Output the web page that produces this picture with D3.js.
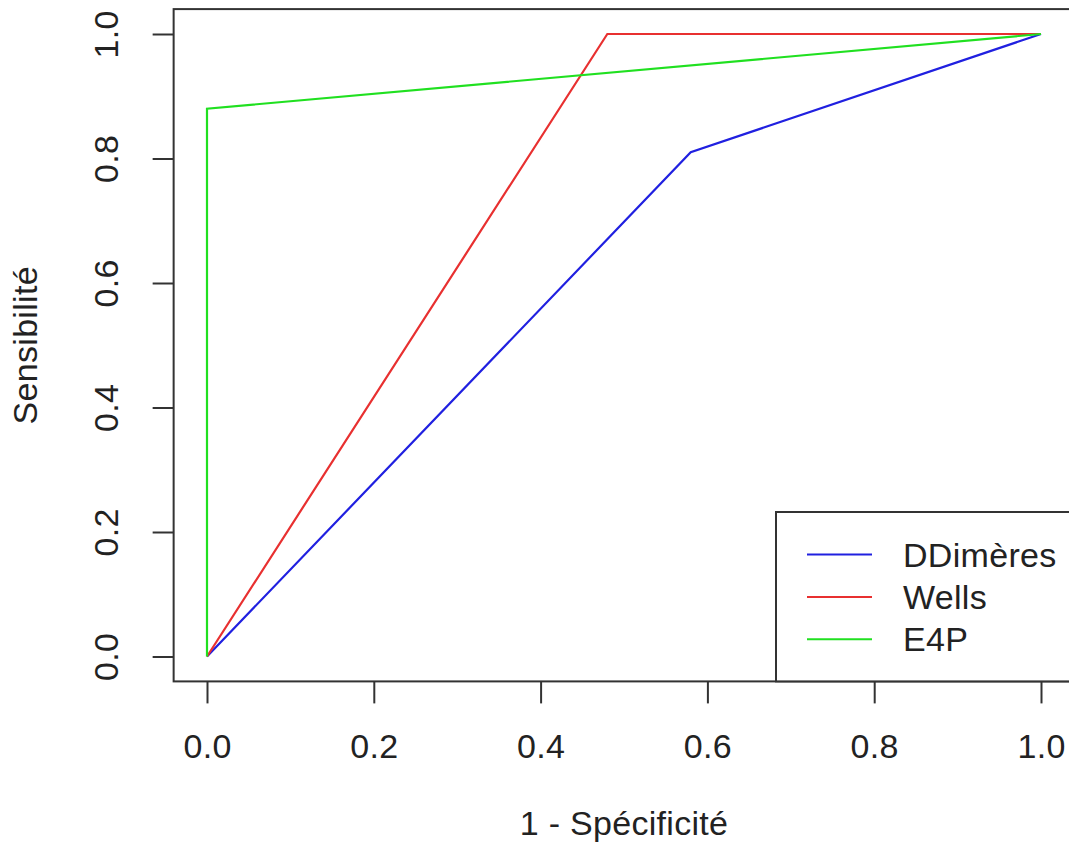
<!DOCTYPE html>
<html><head><meta charset="utf-8">
<script src="https://cdn.jsdelivr.net/npm/d3@7"></script>
<style>body{margin:0;background:#fff;}svg{display:block;}</style>
</head><body>
<svg id="c" width="1069" height="849"></svg>
<script>
const seriesNames = ["DDimères", "Wells", "E4P"];
const seriesColors = ["#2020e0", "#e83030", "#20e020"];
const ddimeresFPR = [0, 0.58, 1];
const ddimeresTPR = [0, 0.81, 1];
const wellsFPR = [0, 0.48, 1];
const wellsTPR = [0, 1, 1];
const e4pFPR = [0, 0, 1];
const e4pTPR = [0, 0.88, 1];
const xTicks = [0, 0.2, 0.4, 0.6, 0.8, 1.0];
const yTicks = [0, 0.2, 0.4, 0.6, 0.8, 1.0];

const svg = d3.select("#c");
const font = "Liberation Sans, Arial, Helvetica, sans-serif";
const fs = 34;
const ls = "0.3px";
const x0 = 207, x1 = 1041, y0 = 656.5, y1 = 34;
const x = d3.scaleLinear().domain([0, 1]).range([x0, x1]);
const y = d3.scaleLinear().domain([0, 1]).range([y0, y1]);
const boxL = x(-0.04), boxR = x(1.04), boxT = y(1.04), boxB = y(-0.04);

const series = [
  {fpr: ddimeresFPR, tpr: ddimeresTPR},
  {fpr: wellsFPR, tpr: wellsTPR},
  {fpr: e4pFPR, tpr: e4pTPR}
];
const line = d3.line().x(d => x(d[0])).y(d => y(d[1]));
series.forEach((s, i) => {
  svg.append("path")
    .attr("d", line(s.fpr.map((v, j) => [v, s.tpr[j]])))
    .attr("fill", "none").attr("stroke", seriesColors[i]).attr("stroke-width", 2.2);
});

// plot box
svg.append("rect").attr("x", boxL).attr("y", boxT)
  .attr("width", boxR - boxL).attr("height", boxB - boxT)
  .attr("fill", "none").attr("stroke", "#333").attr("stroke-width", 2);

// x axis
const xa = svg.append("g").attr("transform", `translate(0,${boxB})`)
  .call(d3.axisBottom(x).tickValues(xTicks).tickFormat(d3.format(".1f")).tickSize(22).tickPadding(32));
xa.select(".domain").remove();
xa.selectAll("line").attr("stroke", "#333").attr("stroke-width", 2);
xa.selectAll("text").attr("font-family", font).attr("font-size", fs).attr("fill", "#222")
  .attr("letter-spacing", ls).attr("y", null).attr("dy", null).attr("transform", "translate(0,77)");

// y axis
const ya = svg.append("g").attr("transform", `translate(${boxL},0)`)
  .call(d3.axisLeft(y).tickValues(yTicks).tickFormat(d3.format(".1f")).tickSize(21));
ya.select(".domain").remove();
ya.selectAll("line").attr("stroke", "#333").attr("stroke-width", 2);
ya.selectAll("text").attr("font-family", font).attr("font-size", fs).attr("fill", "#222")
  .attr("letter-spacing", ls)
  .attr("x", null).attr("dy", null).attr("text-anchor", "middle")
  .attr("transform", "translate(-56,0) rotate(-90)");

// axis titles
svg.append("text").attr("x", (boxL + boxR) / 2).attr("y", 835)
  .attr("text-anchor", "middle").attr("font-family", font).attr("font-size", fs).attr("fill", "#222")
  .attr("letter-spacing", ls).text("1 - Spécificité");
svg.append("text").attr("transform", `translate(37,${(boxT + boxB) / 2}) rotate(-90)`)
  .attr("text-anchor", "middle").attr("font-family", font).attr("font-size", fs).attr("fill", "#222")
  .attr("letter-spacing", ls).text("Sensibilité");

// legend
const lg = svg.append("g");
lg.append("rect").attr("x", 776).attr("y", 512).attr("width", 400).attr("height", boxB - 512)
  .attr("fill", "#fff").attr("stroke", "#333").attr("stroke-width", 2);
seriesNames.forEach((n, i) => {
  const yy = 554.5 + i * 42.4;
  lg.append("line").attr("x1", 807).attr("x2", 872).attr("y1", yy).attr("y2", yy)
    .attr("stroke", seriesColors[i]).attr("stroke-width", 2);
  lg.append("text").attr("x", 903).attr("y", yy + 12).attr("font-family", font)
    .attr("font-size", fs).attr("fill", "#222").attr("letter-spacing", ls).text(n);
});
</script>
</body></html>
